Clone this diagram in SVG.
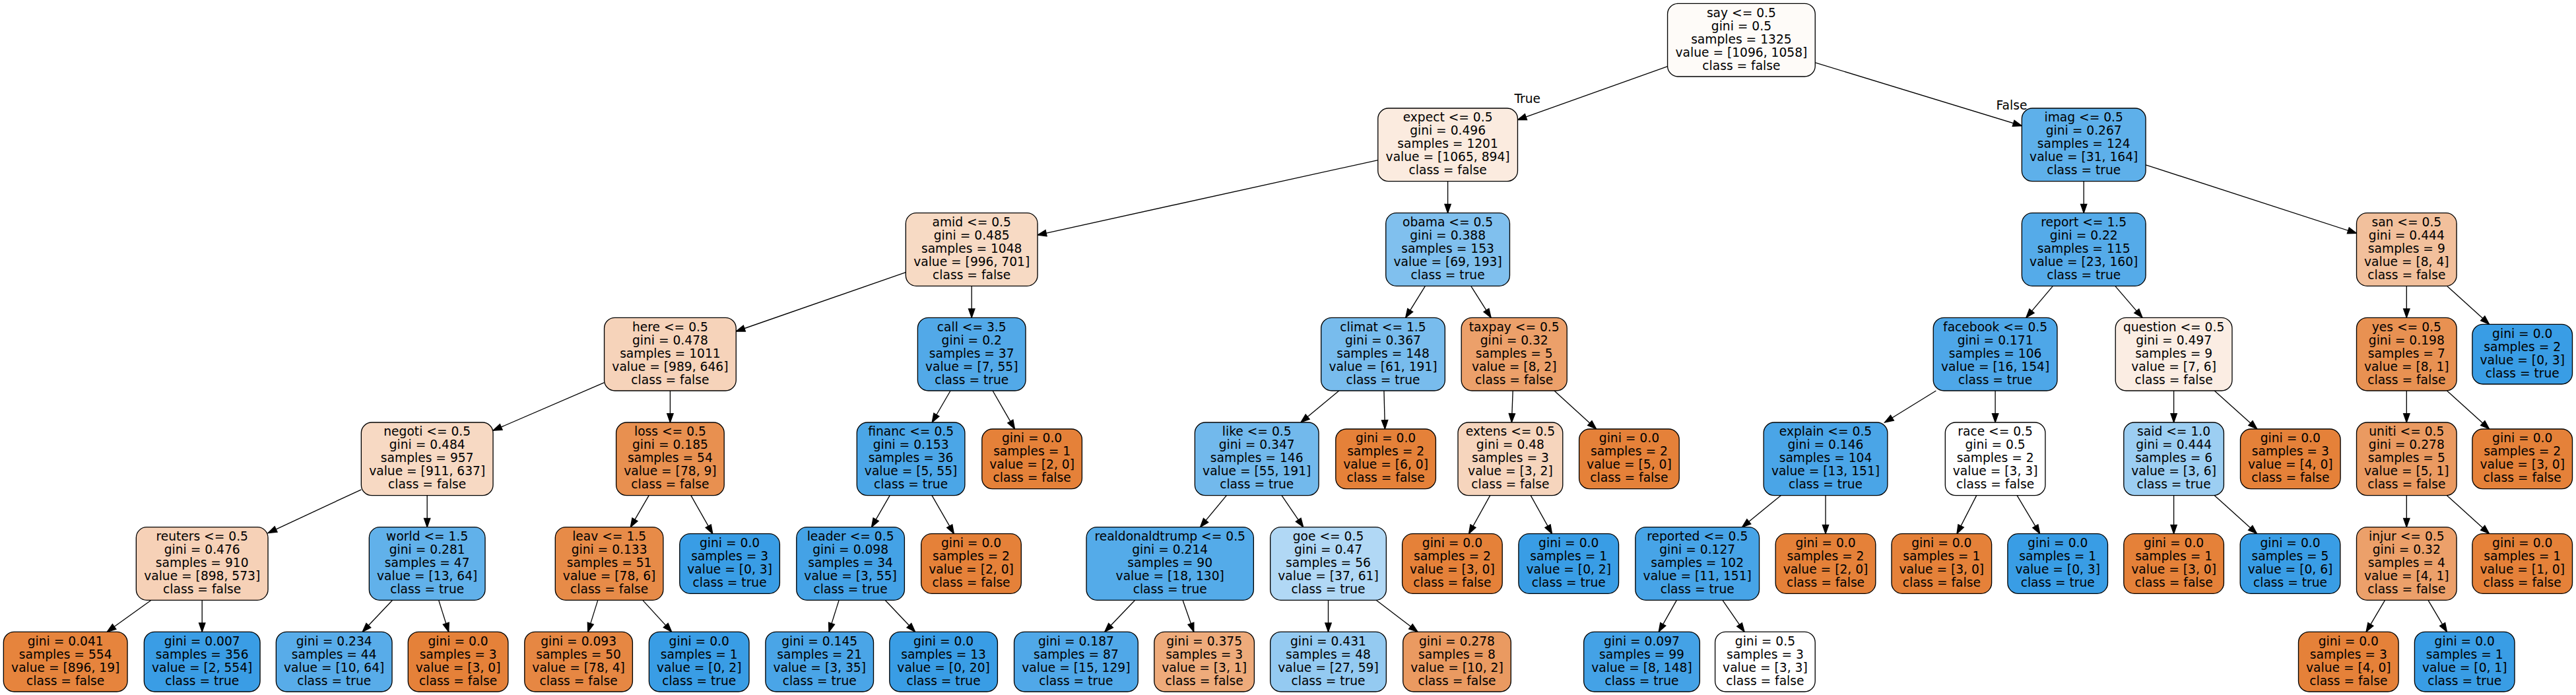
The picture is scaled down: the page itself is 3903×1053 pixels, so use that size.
<svg xmlns="http://www.w3.org/2000/svg" width="3903" height="1053" viewBox="0 0 3903 1053">
<style>
.node rect{stroke:#000;stroke-width:1.33}
.node text,.lbl{font-family:"DejaVu Sans","Liberation Sans",sans-serif;font-size:18.67px;text-anchor:middle;fill:#000}
.edges line{stroke:#000;stroke-width:1.33;fill:none;marker-end:url(#ah)}
</style>
<defs>
<marker id="ah" markerUnits="userSpaceOnUse" markerWidth="16" markerHeight="12" refX="13.33" refY="4.67" orient="auto" overflow="visible">
<path d="M0,0 L13.33,4.67 L0,9.33 Z" fill="#000" stroke="#000" stroke-width="1.33"/>
</marker>
</defs>
<rect x="0" y="0" width="3903" height="1053" fill="#fff"/>
<g id="edges" class="edges">
<line x1="2526.55" y1="100.57" x2="2299.45" y2="181.57"/>
<line x1="2750.25" y1="94.88" x2="3063.35" y2="190.63"/>
<line x1="2087.75" y1="242.61" x2="1572.05" y2="356.04"/>
<line x1="2193.6" y1="274.67" x2="2193.6" y2="322.67"/>
<line x1="1372.35" y1="412.67" x2="1115.25" y2="502.0"/>
<line x1="1472.2" y1="433.33" x2="1472.2" y2="481.33"/>
<line x1="915.55" y1="579.71" x2="747.05" y2="652.29"/>
<line x1="1015.4" y1="592" x2="1015.4" y2="640"/>
<line x1="547.35" y1="741.79" x2="406.05" y2="807.54"/>
<line x1="647.2" y1="750.67" x2="647.2" y2="798.67"/>
<line x1="229.16" y1="909.33" x2="162.3" y2="957.33"/>
<line x1="306.2" y1="909.33" x2="306.2" y2="957.33"/>
<line x1="594.72" y1="909.33" x2="549.2" y2="957.33"/>
<line x1="664.66" y1="909.33" x2="679.8" y2="957.33"/>
<line x1="983.21" y1="750.67" x2="955.3" y2="798.67"/>
<line x1="1046.85" y1="750.67" x2="1079.8" y2="808.67"/>
<line x1="905.79" y1="909.33" x2="890.8" y2="957.33"/>
<line x1="973.76" y1="909.33" x2="1017.7" y2="957.33"/>
<line x1="1440.08" y1="592" x2="1412.2" y2="640"/>
<line x1="1504.07" y1="592" x2="1537.5" y2="650"/>
<line x1="1348.19" y1="750.67" x2="1320.5" y2="798.67"/>
<line x1="1411.97" y1="750.67" x2="1445.4" y2="808.67"/>
<line x1="1271.14" y1="909.33" x2="1256.0" y2="957.33"/>
<line x1="1341.08" y1="909.33" x2="1386.6" y2="957.33"/>
<line x1="2159.39" y1="433.33" x2="2129.7" y2="481.33"/>
<line x1="2228.68" y1="433.33" x2="2259.1" y2="481.33"/>
<line x1="2028.8" y1="592" x2="1970.9" y2="640"/>
<line x1="2096.93" y1="592" x2="2098.4" y2="650"/>
<line x1="1858.35" y1="750.67" x2="1818.55" y2="798.67"/>
<line x1="1941.96" y1="750.67" x2="1974.7" y2="798.67"/>
<line x1="1719.74" y1="909.33" x2="1673.8" y2="957.33"/>
<line x1="1792.02" y1="909.33" x2="1808.8" y2="957.33"/>
<line x1="2012.5" y1="909.33" x2="2012.5" y2="957.33"/>
<line x1="2085.08" y1="909.33" x2="2148.0" y2="957.33"/>
<line x1="2292.18" y1="592" x2="2290.4" y2="640"/>
<line x1="2354.94" y1="592" x2="2418.6" y2="650"/>
<line x1="2257.71" y1="750.67" x2="2225.5" y2="808.67"/>
<line x1="2319.19" y1="750.67" x2="2351.5" y2="808.67"/>
<line x1="3157.2" y1="274.67" x2="3157.2" y2="322.67"/>
<line x1="3251.05" y1="249.78" x2="3570.5" y2="353.41"/>
<line x1="3110.44" y1="433.33" x2="3069.9" y2="481.33"/>
<line x1="3204.76" y1="433.33" x2="3246.0" y2="481.33"/>
<line x1="2933.41" y1="592" x2="2855.6" y2="640"/>
<line x1="3023.1" y1="592" x2="3023.1" y2="640"/>
<line x1="2698.25" y1="750.67" x2="2639.5" y2="798.67"/>
<line x1="2766" y1="750.67" x2="2766" y2="808.67"/>
<line x1="2540.36" y1="909.33" x2="2513.2" y2="957.33"/>
<line x1="2609.92" y1="909.33" x2="2643.1" y2="957.33"/>
<line x1="2994.75" y1="750.67" x2="2965.0" y2="808.67"/>
<line x1="3056.09" y1="750.67" x2="3090.7" y2="808.67"/>
<line x1="3293.6" y1="592" x2="3293.6" y2="640"/>
<line x1="3355.22" y1="592" x2="3419.8" y2="650"/>
<line x1="3293.6" y1="750.67" x2="3293.6" y2="808.67"/>
<line x1="3355.28" y1="750.67" x2="3419.6" y2="808.67"/>
<line x1="3646.3" y1="433.33" x2="3646.3" y2="481.33"/>
<line x1="3707.46" y1="433.33" x2="3771.6" y2="491.33"/>
<line x1="3646.3" y1="592" x2="3646.3" y2="640"/>
<line x1="3707.46" y1="592" x2="3771.6" y2="650"/>
<line x1="3646.3" y1="750.67" x2="3646.3" y2="798.67"/>
<line x1="3707.46" y1="750.67" x2="3771.6" y2="808.67"/>
<line x1="3613.55" y1="909.33" x2="3585.1" y2="957.33"/>
<line x1="3678.99" y1="909.33" x2="3707.4" y2="957.33"/>
<text class="lbl" x="2314.2" y="156">True</text>
<text class="lbl" x="3048" y="165.7">False</text>
</g>
<g id="n0" class="node" transform="translate(2638.4,60.67)"><rect x="-111.85" y="-55.33" width="223.7" height="110.67" rx="16" fill="#fefbf8"/><text><tspan x="0" y="-35.07">say &lt;= 0.5</tspan><tspan x="0" y="-15.07">gini = 0.5</tspan><tspan x="0" y="4.93">samples = 1325</tspan><tspan x="0" y="24.93">value = [1096, 1058]</tspan><tspan x="0" y="44.93">class = false</tspan></text></g>
<g id="n1" class="node" transform="translate(2193.6,219.33)"><rect x="-105.85" y="-55.33" width="211.7" height="110.67" rx="16" fill="#fbebdf"/><text><tspan x="0" y="-35.07">expect &lt;= 0.5</tspan><tspan x="0" y="-15.07">gini = 0.496</tspan><tspan x="0" y="4.93">samples = 1201</tspan><tspan x="0" y="24.93">value = [1065, 894]</tspan><tspan x="0" y="44.93">class = false</tspan></text></g>
<g id="n2" class="node" transform="translate(1472.2,378)"><rect x="-99.85" y="-55.33" width="199.7" height="110.67" rx="16" fill="#f7dac4"/><text><tspan x="0" y="-35.07">amid &lt;= 0.5</tspan><tspan x="0" y="-15.07">gini = 0.485</tspan><tspan x="0" y="4.93">samples = 1048</tspan><tspan x="0" y="24.93">value = [996, 701]</tspan><tspan x="0" y="44.93">class = false</tspan></text></g>
<g id="n3" class="node" transform="translate(1015.4,536.67)"><rect x="-99.85" y="-55.33" width="199.7" height="110.67" rx="16" fill="#f6d3ba"/><text><tspan x="0" y="-35.07">here &lt;= 0.5</tspan><tspan x="0" y="-15.07">gini = 0.478</tspan><tspan x="0" y="4.93">samples = 1011</tspan><tspan x="0" y="24.93">value = [989, 646]</tspan><tspan x="0" y="44.93">class = false</tspan></text></g>
<g id="n4" class="node" transform="translate(647.2,695.33)"><rect x="-99.85" y="-55.33" width="199.7" height="110.67" rx="16" fill="#f7d9c3"/><text><tspan x="0" y="-35.07">negoti &lt;= 0.5</tspan><tspan x="0" y="-15.07">gini = 0.484</tspan><tspan x="0" y="4.93">samples = 957</tspan><tspan x="0" y="24.93">value = [911, 637]</tspan><tspan x="0" y="44.93">class = false</tspan></text></g>
<g id="n5" class="node" transform="translate(306.2,854)"><rect x="-99.85" y="-55.33" width="199.7" height="110.67" rx="16" fill="#f6d1b7"/><text><tspan x="0" y="-35.07">reuters &lt;= 0.5</tspan><tspan x="0" y="-15.07">gini = 0.476</tspan><tspan x="0" y="4.93">samples = 910</tspan><tspan x="0" y="24.93">value = [898, 573]</tspan><tspan x="0" y="44.93">class = false</tspan></text></g>
<g id="n6" class="node" transform="translate(99.2,1002.67)"><rect x="-93.85" y="-45.33" width="187.7" height="90.67" rx="16" fill="#e6843d"/><text><tspan x="0" y="-25.07">gini = 0.041</tspan><tspan x="0" y="-5.07">samples = 554</tspan><tspan x="0" y="14.93">value = [896, 19]</tspan><tspan x="0" y="34.93">class = false</tspan></text></g>
<g id="n7" class="node" transform="translate(306.2,1002.67)"><rect x="-87.85" y="-45.33" width="175.7" height="90.67" rx="16" fill="#3a9de5"/><text><tspan x="0" y="-25.07">gini = 0.007</tspan><tspan x="0" y="-5.07">samples = 356</tspan><tspan x="0" y="14.93">value = [2, 554]</tspan><tspan x="0" y="34.93">class = true</tspan></text></g>
<g id="n8" class="node" transform="translate(647.2,854)"><rect x="-87.85" y="-55.33" width="175.7" height="110.67" rx="16" fill="#61b1ea"/><text><tspan x="0" y="-35.07">world &lt;= 1.5</tspan><tspan x="0" y="-15.07">gini = 0.281</tspan><tspan x="0" y="4.93">samples = 47</tspan><tspan x="0" y="24.93">value = [13, 64]</tspan><tspan x="0" y="44.93">class = true</tspan></text></g>
<g id="n9" class="node" transform="translate(506.2,1002.67)"><rect x="-87.85" y="-45.33" width="175.7" height="90.67" rx="16" fill="#58ace9"/><text><tspan x="0" y="-25.07">gini = 0.234</tspan><tspan x="0" y="-5.07">samples = 44</tspan><tspan x="0" y="14.93">value = [10, 64]</tspan><tspan x="0" y="34.93">class = true</tspan></text></g>
<g id="n10" class="node" transform="translate(694.1,1002.67)"><rect x="-75.8" y="-45.33" width="151.6" height="90.67" rx="16" fill="#e58139"/><text><tspan x="0" y="-25.07">gini = 0.0</tspan><tspan x="0" y="-5.07">samples = 3</tspan><tspan x="0" y="14.93">value = [3, 0]</tspan><tspan x="0" y="34.93">class = false</tspan></text></g>
<g id="n11" class="node" transform="translate(1015.4,695.33)"><rect x="-81.8" y="-55.33" width="163.6" height="110.67" rx="16" fill="#e89050"/><text><tspan x="0" y="-35.07">loss &lt;= 0.5</tspan><tspan x="0" y="-15.07">gini = 0.185</tspan><tspan x="0" y="4.93">samples = 54</tspan><tspan x="0" y="24.93">value = [78, 9]</tspan><tspan x="0" y="44.93">class = false</tspan></text></g>
<g id="n12" class="node" transform="translate(923.1,854)"><rect x="-81.8" y="-55.33" width="163.6" height="110.67" rx="16" fill="#e78b48"/><text><tspan x="0" y="-35.07">leav &lt;= 1.5</tspan><tspan x="0" y="-15.07">gini = 0.133</tspan><tspan x="0" y="4.93">samples = 51</tspan><tspan x="0" y="24.93">value = [78, 6]</tspan><tspan x="0" y="44.93">class = false</tspan></text></g>
<g id="n13" class="node" transform="translate(876.6,1002.67)"><rect x="-81.8" y="-45.33" width="163.6" height="90.67" rx="16" fill="#e68743"/><text><tspan x="0" y="-25.07">gini = 0.093</tspan><tspan x="0" y="-5.07">samples = 50</tspan><tspan x="0" y="14.93">value = [78, 4]</tspan><tspan x="0" y="34.93">class = false</tspan></text></g>
<g id="n14" class="node" transform="translate(1059.2,1002.67)"><rect x="-75.8" y="-45.33" width="151.6" height="90.67" rx="16" fill="#399de5"/><text><tspan x="0" y="-25.07">gini = 0.0</tspan><tspan x="0" y="-5.07">samples = 1</tspan><tspan x="0" y="14.93">value = [0, 2]</tspan><tspan x="0" y="34.93">class = true</tspan></text></g>
<g id="n15" class="node" transform="translate(1105.6,854)"><rect x="-75.8" y="-45.33" width="151.6" height="90.67" rx="16" fill="#399de5"/><text><tspan x="0" y="-25.07">gini = 0.0</tspan><tspan x="0" y="-5.07">samples = 3</tspan><tspan x="0" y="14.93">value = [0, 3]</tspan><tspan x="0" y="34.93">class = true</tspan></text></g>
<g id="n16" class="node" transform="translate(1472.2,536.67)"><rect x="-81.8" y="-55.33" width="163.6" height="110.67" rx="16" fill="#52a9e8"/><text><tspan x="0" y="-35.07">call &lt;= 3.5</tspan><tspan x="0" y="-15.07">gini = 0.2</tspan><tspan x="0" y="4.93">samples = 37</tspan><tspan x="0" y="24.93">value = [7, 55]</tspan><tspan x="0" y="44.93">class = true</tspan></text></g>
<g id="n17" class="node" transform="translate(1380.1,695.33)"><rect x="-81.8" y="-55.33" width="163.6" height="110.67" rx="16" fill="#4ba6e7"/><text><tspan x="0" y="-35.07">financ &lt;= 0.5</tspan><tspan x="0" y="-15.07">gini = 0.153</tspan><tspan x="0" y="4.93">samples = 36</tspan><tspan x="0" y="24.93">value = [5, 55]</tspan><tspan x="0" y="44.93">class = true</tspan></text></g>
<g id="n18" class="node" transform="translate(1288.6,854)"><rect x="-81.8" y="-55.33" width="163.6" height="110.67" rx="16" fill="#44a2e6"/><text><tspan x="0" y="-35.07">leader &lt;= 0.5</tspan><tspan x="0" y="-15.07">gini = 0.098</tspan><tspan x="0" y="4.93">samples = 34</tspan><tspan x="0" y="24.93">value = [3, 55]</tspan><tspan x="0" y="44.93">class = true</tspan></text></g>
<g id="n19" class="node" transform="translate(1241.7,1002.67)"><rect x="-81.8" y="-45.33" width="163.6" height="90.67" rx="16" fill="#4aa5e7"/><text><tspan x="0" y="-25.07">gini = 0.145</tspan><tspan x="0" y="-5.07">samples = 21</tspan><tspan x="0" y="14.93">value = [3, 35]</tspan><tspan x="0" y="34.93">class = true</tspan></text></g>
<g id="n20" class="node" transform="translate(1429.6,1002.67)"><rect x="-81.8" y="-45.33" width="163.6" height="90.67" rx="16" fill="#399de5"/><text><tspan x="0" y="-25.07">gini = 0.0</tspan><tspan x="0" y="-5.07">samples = 13</tspan><tspan x="0" y="14.93">value = [0, 20]</tspan><tspan x="0" y="34.93">class = true</tspan></text></g>
<g id="n21" class="node" transform="translate(1471.5,854)"><rect x="-75.8" y="-45.33" width="151.6" height="90.67" rx="16" fill="#e58139"/><text><tspan x="0" y="-25.07">gini = 0.0</tspan><tspan x="0" y="-5.07">samples = 2</tspan><tspan x="0" y="14.93">value = [2, 0]</tspan><tspan x="0" y="34.93">class = false</tspan></text></g>
<g id="n22" class="node" transform="translate(1563.6,695.33)"><rect x="-75.8" y="-45.33" width="151.6" height="90.67" rx="16" fill="#e58139"/><text><tspan x="0" y="-25.07">gini = 0.0</tspan><tspan x="0" y="-5.07">samples = 1</tspan><tspan x="0" y="14.93">value = [2, 0]</tspan><tspan x="0" y="34.93">class = false</tspan></text></g>
<g id="n23" class="node" transform="translate(2193.6,378)"><rect x="-93.85" y="-55.33" width="187.7" height="110.67" rx="16" fill="#80c0ee"/><text><tspan x="0" y="-35.07">obama &lt;= 0.5</tspan><tspan x="0" y="-15.07">gini = 0.388</tspan><tspan x="0" y="4.93">samples = 153</tspan><tspan x="0" y="24.93">value = [69, 193]</tspan><tspan x="0" y="44.93">class = true</tspan></text></g>
<g id="n24" class="node" transform="translate(2095.5,536.67)"><rect x="-93.85" y="-55.33" width="187.7" height="110.67" rx="16" fill="#78bced"/><text><tspan x="0" y="-35.07">climat &lt;= 1.5</tspan><tspan x="0" y="-15.07">gini = 0.367</tspan><tspan x="0" y="4.93">samples = 148</tspan><tspan x="0" y="24.93">value = [61, 191]</tspan><tspan x="0" y="44.93">class = true</tspan></text></g>
<g id="n25" class="node" transform="translate(1904.2,695.33)"><rect x="-93.85" y="-55.33" width="187.7" height="110.67" rx="16" fill="#72b9ec"/><text><tspan x="0" y="-35.07">like &lt;= 0.5</tspan><tspan x="0" y="-15.07">gini = 0.347</tspan><tspan x="0" y="4.93">samples = 146</tspan><tspan x="0" y="24.93">value = [55, 191]</tspan><tspan x="0" y="44.93">class = true</tspan></text></g>
<g id="n26" class="node" transform="translate(1772.7,854)"><rect x="-126.65" y="-55.33" width="253.3" height="110.67" rx="16" fill="#54abe9"/><text><tspan x="0" y="-35.07">realdonaldtrump &lt;= 0.5</tspan><tspan x="0" y="-15.07">gini = 0.214</tspan><tspan x="0" y="4.93">samples = 90</tspan><tspan x="0" y="24.93">value = [18, 130]</tspan><tspan x="0" y="44.93">class = true</tspan></text></g>
<g id="n27" class="node" transform="translate(1630.4,1002.67)"><rect x="-93.85" y="-45.33" width="187.7" height="90.67" rx="16" fill="#50a8e8"/><text><tspan x="0" y="-25.07">gini = 0.187</tspan><tspan x="0" y="-5.07">samples = 87</tspan><tspan x="0" y="14.93">value = [15, 129]</tspan><tspan x="0" y="34.93">class = true</tspan></text></g>
<g id="n28" class="node" transform="translate(1824.6,1002.67)"><rect x="-75.8" y="-45.33" width="151.6" height="90.67" rx="16" fill="#eeab7b"/><text><tspan x="0" y="-25.07">gini = 0.375</tspan><tspan x="0" y="-5.07">samples = 3</tspan><tspan x="0" y="14.93">value = [3, 1]</tspan><tspan x="0" y="34.93">class = false</tspan></text></g>
<g id="n29" class="node" transform="translate(2012.5,854)"><rect x="-87.85" y="-55.33" width="175.7" height="110.67" rx="16" fill="#b1d8f5"/><text><tspan x="0" y="-35.07">goe &lt;= 0.5</tspan><tspan x="0" y="-15.07">gini = 0.47</tspan><tspan x="0" y="4.93">samples = 56</tspan><tspan x="0" y="24.93">value = [37, 61]</tspan><tspan x="0" y="44.93">class = true</tspan></text></g>
<g id="n30" class="node" transform="translate(2012.5,1002.67)"><rect x="-87.85" y="-45.33" width="175.7" height="90.67" rx="16" fill="#94caf1"/><text><tspan x="0" y="-25.07">gini = 0.431</tspan><tspan x="0" y="-5.07">samples = 48</tspan><tspan x="0" y="14.93">value = [27, 59]</tspan><tspan x="0" y="34.93">class = true</tspan></text></g>
<g id="n31" class="node" transform="translate(2207.5,1002.67)"><rect x="-81.8" y="-45.33" width="163.6" height="90.67" rx="16" fill="#ea9a61"/><text><tspan x="0" y="-25.07">gini = 0.278</tspan><tspan x="0" y="-5.07">samples = 8</tspan><tspan x="0" y="14.93">value = [10, 2]</tspan><tspan x="0" y="34.93">class = false</tspan></text></g>
<g id="n32" class="node" transform="translate(2099.6,695.33)"><rect x="-75.8" y="-45.33" width="151.6" height="90.67" rx="16" fill="#e58139"/><text><tspan x="0" y="-25.07">gini = 0.0</tspan><tspan x="0" y="-5.07">samples = 2</tspan><tspan x="0" y="14.93">value = [6, 0]</tspan><tspan x="0" y="34.93">class = false</tspan></text></g>
<g id="n33" class="node" transform="translate(2294.2,536.67)"><rect x="-80" y="-55.33" width="160" height="110.67" rx="16" fill="#eca06a"/><text><tspan x="0" y="-35.07">taxpay &lt;= 0.5</tspan><tspan x="0" y="-15.07">gini = 0.32</tspan><tspan x="0" y="4.93">samples = 5</tspan><tspan x="0" y="24.93">value = [8, 2]</tspan><tspan x="0" y="44.93">class = false</tspan></text></g>
<g id="n34" class="node" transform="translate(2288.4,695.33)"><rect x="-79.4" y="-55.33" width="158.8" height="110.67" rx="16" fill="#f6d5bd"/><text><tspan x="0" y="-35.07">extens &lt;= 0.5</tspan><tspan x="0" y="-15.07">gini = 0.48</tspan><tspan x="0" y="4.93">samples = 3</tspan><tspan x="0" y="24.93">value = [3, 2]</tspan><tspan x="0" y="44.93">class = false</tspan></text></g>
<g id="n35" class="node" transform="translate(2200.4,854)"><rect x="-75.8" y="-45.33" width="151.6" height="90.67" rx="16" fill="#e58139"/><text><tspan x="0" y="-25.07">gini = 0.0</tspan><tspan x="0" y="-5.07">samples = 2</tspan><tspan x="0" y="14.93">value = [3, 0]</tspan><tspan x="0" y="34.93">class = false</tspan></text></g>
<g id="n36" class="node" transform="translate(2376.7,854)"><rect x="-75.8" y="-45.33" width="151.6" height="90.67" rx="16" fill="#399de5"/><text><tspan x="0" y="-25.07">gini = 0.0</tspan><tspan x="0" y="-5.07">samples = 1</tspan><tspan x="0" y="14.93">value = [0, 2]</tspan><tspan x="0" y="34.93">class = true</tspan></text></g>
<g id="n37" class="node" transform="translate(2468.4,695.33)"><rect x="-75.8" y="-45.33" width="151.6" height="90.67" rx="16" fill="#e58139"/><text><tspan x="0" y="-25.07">gini = 0.0</tspan><tspan x="0" y="-5.07">samples = 2</tspan><tspan x="0" y="14.93">value = [5, 0]</tspan><tspan x="0" y="34.93">class = false</tspan></text></g>
<g id="n38" class="node" transform="translate(3157.2,219.33)"><rect x="-93.85" y="-55.33" width="187.7" height="110.67" rx="16" fill="#5eb0ea"/><text><tspan x="0" y="-35.07">imag &lt;= 0.5</tspan><tspan x="0" y="-15.07">gini = 0.267</tspan><tspan x="0" y="4.93">samples = 124</tspan><tspan x="0" y="24.93">value = [31, 164]</tspan><tspan x="0" y="44.93">class = true</tspan></text></g>
<g id="n39" class="node" transform="translate(3157.2,378)"><rect x="-93.85" y="-55.33" width="187.7" height="110.67" rx="16" fill="#55abe9"/><text><tspan x="0" y="-35.07">report &lt;= 1.5</tspan><tspan x="0" y="-15.07">gini = 0.22</tspan><tspan x="0" y="4.93">samples = 115</tspan><tspan x="0" y="24.93">value = [23, 160]</tspan><tspan x="0" y="44.93">class = true</tspan></text></g>
<g id="n40" class="node" transform="translate(3023.1,536.67)"><rect x="-93.85" y="-55.33" width="187.7" height="110.67" rx="16" fill="#4ea7e8"/><text><tspan x="0" y="-35.07">facebook &lt;= 0.5</tspan><tspan x="0" y="-15.07">gini = 0.171</tspan><tspan x="0" y="4.93">samples = 106</tspan><tspan x="0" y="24.93">value = [16, 154]</tspan><tspan x="0" y="44.93">class = true</tspan></text></g>
<g id="n41" class="node" transform="translate(2766,695.33)"><rect x="-93.85" y="-55.33" width="187.7" height="110.67" rx="16" fill="#4aa5e7"/><text><tspan x="0" y="-35.07">explain &lt;= 0.5</tspan><tspan x="0" y="-15.07">gini = 0.146</tspan><tspan x="0" y="4.93">samples = 104</tspan><tspan x="0" y="24.93">value = [13, 151]</tspan><tspan x="0" y="44.93">class = true</tspan></text></g>
<g id="n42" class="node" transform="translate(2571.7,854)"><rect x="-93.85" y="-55.33" width="187.7" height="110.67" rx="16" fill="#47a4e7"/><text><tspan x="0" y="-35.07">reported &lt;= 0.5</tspan><tspan x="0" y="-15.07">gini = 0.127</tspan><tspan x="0" y="4.93">samples = 102</tspan><tspan x="0" y="24.93">value = [11, 151]</tspan><tspan x="0" y="44.93">class = true</tspan></text></g>
<g id="n43" class="node" transform="translate(2487.5,1002.67)"><rect x="-87.85" y="-45.33" width="175.7" height="90.67" rx="16" fill="#44a2e6"/><text><tspan x="0" y="-25.07">gini = 0.097</tspan><tspan x="0" y="-5.07">samples = 99</tspan><tspan x="0" y="14.93">value = [8, 148]</tspan><tspan x="0" y="34.93">class = true</tspan></text></g>
<g id="n44" class="node" transform="translate(2674.4,1002.67)"><rect x="-75.8" y="-45.33" width="151.6" height="90.67" rx="16" fill="#ffffff"/><text><tspan x="0" y="-25.07">gini = 0.5</tspan><tspan x="0" y="-5.07">samples = 3</tspan><tspan x="0" y="14.93">value = [3, 3]</tspan><tspan x="0" y="34.93">class = false</tspan></text></g>
<g id="n45" class="node" transform="translate(2766,854)"><rect x="-75.8" y="-45.33" width="151.6" height="90.67" rx="16" fill="#e58139"/><text><tspan x="0" y="-25.07">gini = 0.0</tspan><tspan x="0" y="-5.07">samples = 2</tspan><tspan x="0" y="14.93">value = [2, 0]</tspan><tspan x="0" y="34.93">class = false</tspan></text></g>
<g id="n46" class="node" transform="translate(3023.1,695.33)"><rect x="-75.8" y="-55.33" width="151.6" height="110.67" rx="16" fill="#ffffff"/><text><tspan x="0" y="-35.07">race &lt;= 0.5</tspan><tspan x="0" y="-15.07">gini = 0.5</tspan><tspan x="0" y="4.93">samples = 2</tspan><tspan x="0" y="24.93">value = [3, 3]</tspan><tspan x="0" y="44.93">class = false</tspan></text></g>
<g id="n47" class="node" transform="translate(2941.8,854)"><rect x="-75.8" y="-45.33" width="151.6" height="90.67" rx="16" fill="#e58139"/><text><tspan x="0" y="-25.07">gini = 0.0</tspan><tspan x="0" y="-5.07">samples = 1</tspan><tspan x="0" y="14.93">value = [3, 0]</tspan><tspan x="0" y="34.93">class = false</tspan></text></g>
<g id="n48" class="node" transform="translate(3117.7,854)"><rect x="-75.8" y="-45.33" width="151.6" height="90.67" rx="16" fill="#399de5"/><text><tspan x="0" y="-25.07">gini = 0.0</tspan><tspan x="0" y="-5.07">samples = 1</tspan><tspan x="0" y="14.93">value = [0, 3]</tspan><tspan x="0" y="34.93">class = true</tspan></text></g>
<g id="n49" class="node" transform="translate(3293.6,536.67)"><rect x="-88.38" y="-55.33" width="176.75" height="110.67" rx="16" fill="#fbede3"/><text><tspan x="0" y="-35.07">question &lt;= 0.5</tspan><tspan x="0" y="-15.07">gini = 0.497</tspan><tspan x="0" y="4.93">samples = 9</tspan><tspan x="0" y="24.93">value = [7, 6]</tspan><tspan x="0" y="44.93">class = false</tspan></text></g>
<g id="n50" class="node" transform="translate(3293.6,695.33)"><rect x="-75.8" y="-55.33" width="151.6" height="110.67" rx="16" fill="#9ccef2"/><text><tspan x="0" y="-35.07">said &lt;= 1.0</tspan><tspan x="0" y="-15.07">gini = 0.444</tspan><tspan x="0" y="4.93">samples = 6</tspan><tspan x="0" y="24.93">value = [3, 6]</tspan><tspan x="0" y="44.93">class = true</tspan></text></g>
<g id="n51" class="node" transform="translate(3293.6,854)"><rect x="-75.8" y="-45.33" width="151.6" height="90.67" rx="16" fill="#e58139"/><text><tspan x="0" y="-25.07">gini = 0.0</tspan><tspan x="0" y="-5.07">samples = 1</tspan><tspan x="0" y="14.93">value = [3, 0]</tspan><tspan x="0" y="34.93">class = false</tspan></text></g>
<g id="n52" class="node" transform="translate(3470,854)"><rect x="-75.8" y="-45.33" width="151.6" height="90.67" rx="16" fill="#399de5"/><text><tspan x="0" y="-25.07">gini = 0.0</tspan><tspan x="0" y="-5.07">samples = 5</tspan><tspan x="0" y="14.93">value = [0, 6]</tspan><tspan x="0" y="34.93">class = true</tspan></text></g>
<g id="n53" class="node" transform="translate(3470.3,695.33)"><rect x="-75.8" y="-45.33" width="151.6" height="90.67" rx="16" fill="#e58139"/><text><tspan x="0" y="-25.07">gini = 0.0</tspan><tspan x="0" y="-5.07">samples = 3</tspan><tspan x="0" y="14.93">value = [4, 0]</tspan><tspan x="0" y="34.93">class = false</tspan></text></g>
<g id="n54" class="node" transform="translate(3646.3,378)"><rect x="-75.8" y="-55.33" width="151.6" height="110.67" rx="16" fill="#f2c09c"/><text><tspan x="0" y="-35.07">san &lt;= 0.5</tspan><tspan x="0" y="-15.07">gini = 0.444</tspan><tspan x="0" y="4.93">samples = 9</tspan><tspan x="0" y="24.93">value = [8, 4]</tspan><tspan x="0" y="44.93">class = false</tspan></text></g>
<g id="n55" class="node" transform="translate(3646.3,536.67)"><rect x="-75.8" y="-55.33" width="151.6" height="110.67" rx="16" fill="#e89152"/><text><tspan x="0" y="-35.07">yes &lt;= 0.5</tspan><tspan x="0" y="-15.07">gini = 0.198</tspan><tspan x="0" y="4.93">samples = 7</tspan><tspan x="0" y="24.93">value = [8, 1]</tspan><tspan x="0" y="44.93">class = false</tspan></text></g>
<g id="n56" class="node" transform="translate(3646.3,695.33)"><rect x="-75.8" y="-55.33" width="151.6" height="110.67" rx="16" fill="#ea9a61"/><text><tspan x="0" y="-35.07">uniti &lt;= 0.5</tspan><tspan x="0" y="-15.07">gini = 0.278</tspan><tspan x="0" y="4.93">samples = 5</tspan><tspan x="0" y="24.93">value = [5, 1]</tspan><tspan x="0" y="44.93">class = false</tspan></text></g>
<g id="n57" class="node" transform="translate(3646.3,854)"><rect x="-75.8" y="-55.33" width="151.6" height="110.67" rx="16" fill="#eca06a"/><text><tspan x="0" y="-35.07">injur &lt;= 0.5</tspan><tspan x="0" y="-15.07">gini = 0.32</tspan><tspan x="0" y="4.93">samples = 4</tspan><tspan x="0" y="24.93">value = [4, 1]</tspan><tspan x="0" y="44.93">class = false</tspan></text></g>
<g id="n58" class="node" transform="translate(3558.3,1002.67)"><rect x="-75.8" y="-45.33" width="151.6" height="90.67" rx="16" fill="#e58139"/><text><tspan x="0" y="-25.07">gini = 0.0</tspan><tspan x="0" y="-5.07">samples = 3</tspan><tspan x="0" y="14.93">value = [4, 0]</tspan><tspan x="0" y="34.93">class = false</tspan></text></g>
<g id="n59" class="node" transform="translate(3734.2,1002.67)"><rect x="-75.8" y="-45.33" width="151.6" height="90.67" rx="16" fill="#399de5"/><text><tspan x="0" y="-25.07">gini = 0.0</tspan><tspan x="0" y="-5.07">samples = 1</tspan><tspan x="0" y="14.93">value = [0, 1]</tspan><tspan x="0" y="34.93">class = true</tspan></text></g>
<g id="n60" class="node" transform="translate(3821.7,854)"><rect x="-75.8" y="-45.33" width="151.6" height="90.67" rx="16" fill="#e58139"/><text><tspan x="0" y="-25.07">gini = 0.0</tspan><tspan x="0" y="-5.07">samples = 1</tspan><tspan x="0" y="14.93">value = [1, 0]</tspan><tspan x="0" y="34.93">class = false</tspan></text></g>
<g id="n61" class="node" transform="translate(3821.7,695.33)"><rect x="-75.8" y="-45.33" width="151.6" height="90.67" rx="16" fill="#e58139"/><text><tspan x="0" y="-25.07">gini = 0.0</tspan><tspan x="0" y="-5.07">samples = 2</tspan><tspan x="0" y="14.93">value = [3, 0]</tspan><tspan x="0" y="34.93">class = false</tspan></text></g>
<g id="n62" class="node" transform="translate(3821.7,536.67)"><rect x="-75.8" y="-45.33" width="151.6" height="90.67" rx="16" fill="#399de5"/><text><tspan x="0" y="-25.07">gini = 0.0</tspan><tspan x="0" y="-5.07">samples = 2</tspan><tspan x="0" y="14.93">value = [0, 3]</tspan><tspan x="0" y="34.93">class = true</tspan></text></g>
</svg>
